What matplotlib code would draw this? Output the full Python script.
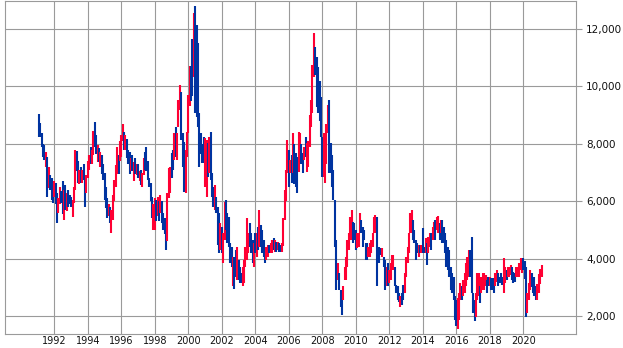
import datetime as dt

import pandas as pd
import matplotlib
matplotlib.use("Agg")
import matplotlib.pyplot as plt
import matplotlib.dates as mdates
from matplotlib.ticker import FuncFormatter

# ===== DANE: miesięczne słupki od 1991-02 =====
# highs / lows w punktach indeksu, moves: U = wzrost (czerwony), D = spadek (niebieski)
highs = [
    9040, 8720, 8380, 8000, 7950, 7700, 7550, 7200, 6900, 6800, 6600,                  # 1991
    6700, 6650, 6300, 6100, 6500, 6350, 6700, 6400, 6550, 6300, 6400, 6200,            # 1992
    6150, 6050, 6500, 7800, 7750, 7400, 7100, 7200, 7100, 7300, 6900, 6900,            # 1993
    7400, 7600, 7900, 7800, 8450, 8750, 8300, 7950, 7850, 7700, 7600, 7300,            # 1994
    7000, 6500, 6100, 5900, 5800, 5700, 6200, 6750, 7250, 7900, 7600, 8100,            # 1995
    8300, 8700, 8400, 8300, 8150, 7800, 7700, 7500, 7600, 7350, 7500, 7300,            # 1996
    7300, 7050, 7100, 7000, 7500, 7700, 7900, 7400, 6800, 6650, 6150, 5900,            # 1997
    6100, 6050, 6150, 6000, 6200, 6000, 5600, 5400, 5400, 6300, 7150, 7200,            # 1998
    7670, 7800, 8370, 8600, 8370, 9530, 10050, 9820, 8370, 8080, 7790, 8420,           # 1999
    9700, 10700, 10700, 11650, 12550, 12800, 12140, 11500, 9060, 8370, 8000, 8250,     # 2000
    8190, 8130, 8020, 8250, 8420, 6970, 6510, 6570, 6160, 5810, 5580, 5230,            # 2001
    5110, 4880, 5980, 6040, 5580, 5460, 4530, 4420, 4070, 4070, 4300, 4420,            # 2002
    3950, 3720, 3490, 3720, 3950, 4420, 5400, 4880, 5230, 4880, 4650, 4530,            # 2003
    4880, 4880, 5110, 5700, 5170, 5000, 4650, 4420, 4420, 4480, 4480, 4530,            # 2004
    4650, 4710, 4650, 4590, 4590, 4530, 4480, 4530, 5400, 6400, 7100, 8130,            # 2005
    7790, 7440, 7610, 8370, 8000, 7670, 7550, 8420, 8370, 8000, 7670, 7900,            # 2006
    8250, 8020, 8100, 9000, 9530, 10750, 11850, 11380, 11040, 10690, 10200, 9640,      # 2007
    8250, 8370, 8130, 8700, 9350, 9530, 8020, 7600, 7090, 6040, 4650, 3840,            # 2008
    3490, 2900, 2680, 3030, 3720, 4070, 4650, 4880, 5460, 5700, 5290, 5230,            # 2009
    5000, 4880, 4880, 5580, 5350, 5110, 5000, 4530, 4530, 4420, 4530, 4650,            # 2010
    4880, 5460, 5520, 5460, 4420, 4420, 4360, 4360, 4070, 3950, 3720, 3840,            # 2011
    3600, 3840, 4130, 4130, 3700, 3080, 3030, 2790, 2680, 2790, 3080, 3490,            # 2012
    4070, 4420, 4880, 5580, 5700, 5350, 5000, 4650, 4530, 4480, 4480, 4480,            # 2013
    5060, 4420, 4710, 4530, 4770, 4880, 4880, 5110, 5290, 5350, 5460, 5490,            # 2014
    5230, 5350, 5350, 5110, 4880, 4650, 4420, 4300, 3720, 3490, 3370, 2680,            # 2015
    2560, 2620, 2790, 3140, 3030, 3260, 3490, 3840, 4070, 4300, 4300, 4740,            # 2016
    2790, 2560, 2790, 3490, 3490, 3030, 3370, 3490, 3490, 3430, 3260, 3370,            # 2017
    3370, 3320, 3320, 3260, 3490, 3600, 3490, 3370, 3490, 3370, 4010, 3720,            # 2018
    3600, 3720, 3720, 3780, 3720, 3550, 3490, 3720, 3720, 3840, 4010, 4010,            # 2019
    4010, 3900, 3700, 2790, 3140, 3600, 3500, 3260, 3370, 3030, 3100, 3450,            # 2020
    3650, 3770,                                                                        # 2021
]

lows = [
    8250, 8250, 7900, 7550, 7450, 7200, 6150, 6450, 6400, 6050, 5950,                  # 1991
    6150, 5900, 5250, 5600, 5900, 5950, 5550, 5350, 5700, 5650, 5800, 5900,            # 1992
    5800, 5450, 5950, 6400, 7050, 6650, 6600, 6650, 6650, 6750, 5800, 6300,            # 1993
    6800, 7100, 7300, 7300, 7600, 7900, 7650, 7350, 7350, 7200, 6950, 6750,            # 1994
    6050, 5750, 5400, 5500, 5250, 4880, 5350, 6000, 6500, 6950, 6950, 7400,            # 1995
    7550, 8100, 7800, 7800, 7500, 7300, 6950, 7050, 7050, 6700, 6950, 6900,            # 1996
    6800, 6700, 6550, 6500, 6900, 7100, 7050, 6750, 6500, 6000, 5400, 5000,            # 1997
    5000, 5300, 5500, 5300, 5600, 5250, 5000, 4850, 4300, 4600, 6100, 6300,            # 1998
    6800, 7100, 7440, 7550, 7440, 8600, 9180, 8130, 7200, 6330, 6280, 7550,            # 1999
    8370, 9300, 9500, 9650, 10340, 9060, 8950, 8600, 7200, 7650, 7320, 7320,           # 2000
    6510, 6160, 6860, 6970, 6740, 6160, 5810, 5700, 5580, 4480, 4190, 4300,            # 2001
    4190, 3840, 4650, 5000, 4530, 4420, 3840, 3720, 3030, 2930, 3370, 3260,            # 2002
    3260, 3140, 3140, 3030, 3140, 3720, 3950, 4190, 4420, 4190, 3840, 3720,            # 2003
    4190, 4070, 4300, 4420, 4420, 4190, 4070, 3840, 3950, 4070, 4190, 4190,            # 2004
    4190, 4300, 4240, 4240, 4300, 4240, 4240, 4240, 4450, 5350, 6000, 7000,            # 2005
    6510, 6970, 6620, 7000, 6600, 6510, 6300, 7030, 7320, 7300, 6970, 7440,            # 2006
    7550, 7030, 7200, 7900, 8600, 9060, 10340, 10400, 9290, 9060, 8800, 8250,          # 2007
    6860, 6860, 6620, 7300, 8370, 6970, 6970, 6500, 6040, 4420, 2910, 3260,            # 2008
    2910, 2300, 2040, 2560, 3260, 3260, 3720, 4300, 4650, 4650, 4530, 4650,            # 2009
    4300, 4360, 4420, 4880, 4880, 4420, 4650, 3950, 3950, 4070, 4070, 4190,            # 2010
    4420, 4880, 4880, 3030, 4070, 3840, 4130, 4070, 3720, 2910, 3030, 3030,            # 2011
    3140, 3260, 3600, 3600, 3030, 2790, 2560, 2500, 2330, 2380, 2560, 2790,            # 2012
    3370, 3840, 4190, 4880, 4880, 4650, 4530, 3950, 4190, 4070, 4190, 4190,            # 2013
    4190, 4190, 4190, 3780, 4190, 4420, 4300, 4650, 4820, 4650, 5000, 4880,            # 2014
    4650, 4880, 4530, 4530, 4190, 3720, 3600, 3370, 2910, 2790, 2560, 1860,            # 2015
    1650, 1560, 1860, 2560, 2560, 2680, 2790, 3030, 3260, 3370, 3370, 2790,            # 2016
    2100, 1810, 1980, 2560, 2680, 2440, 2790, 2910, 2910, 3030, 2790, 3030,            # 2017
    3030, 2910, 2910, 2790, 3030, 3200, 3030, 3140, 3140, 3080, 2790, 3140,            # 2018
    3260, 3370, 3370, 3430, 3260, 3140, 3200, 3370, 3370, 3370, 3600, 3490,            # 2019
    3600, 3300, 1980, 2100, 2560, 2900, 3000, 2790, 2680, 2560, 2560, 2790,            # 2020
    3100, 3370,                                                                        # 2021
]

moves = (
    "DDDDDUDUDDD"    # 1991
    "UDDUUDDUDUDD"   # 1992
    "DUUUDDUDUDDU"   # 1993
    "UUDUUDDUDUDD"   # 1994
    "DDDUDUUUUUDU"   # 1995
    "UUDUDDDUDUDU"   # 1996
    "DUDUUDDDDDDU"   # 1997
    "UDUDUDDDDUUU"   # 1998
    "DDUDUUUDDDUU"   # 1999
    "UUDDUDDDDDDD"   # 2000
    "UUDUDDDUDDDU"   # 2001
    "DUUDDDDDUDDU"   # 2002
    "DDDUUUUUDDDU"   # 2003
    "DUDUDDDDUUDU"   # 2004
    "UDUDUDDUUUUU"   # 2005
    "DUDUDDDUUDDU"   # 2006
    "DUUUUUUDDDDD"   # 2007
    "DUUUUDDDDDDU"   # 2008
    "DDDUUUUUUUDD"   # 2009
    "DUUUDDDDDUUU"   # 2010
    "UUUDDDDUDDUD"   # 2011
    "UUUUDDDDUDDU"   # 2012
    "UUUUUDDDDUDU"   # 2013
    "DDUDUUDUUDUU"   # 2014
    "DUDDDDDDDDDD"   # 2015
    "DUUUDUUUUUDD"   # 2016
    "DDUUUDUUUUDD"   # 2017
    "UDDDUUDDDDUU"   # 2018
    "DUUUDDDUUUUU"   # 2019
    "DDDUUUDDDDUU"   # 2020
    "UU"             # 2021
)

y_ticks = [2000, 4000, 6000, 8000, 10000, 12000]
x_tick_years = list(range(1992, 2021, 2))

# ===== WYKRES =====
months = pd.date_range("1991-02-01", periods=len(highs), freq="MS")
up_color = "#ff0033"
down_color = "#0033a0"
grid_color = "#9a9a9a"
colors = [up_color if m == "U" else down_color for m in moves]

fig = plt.figure(figsize=(6.23, 3.48), dpi=100)
ax = fig.add_axes([5 / 623, 14 / 348, 571 / 623, 333.5 / 348])

ax.vlines(mdates.date2num(months), lows, highs, colors=colors,
          linewidth=1.5, capstyle="butt", zorder=3)

ax.set_xlim(dt.date(1989, 1, 21), dt.date(2023, 2, 23))
ax.set_ylim(1373, 12993)

ax.set_xticks([dt.date(y, 1, 1) for y in x_tick_years])
ax.xaxis.set_major_formatter(mdates.DateFormatter("%Y"))
ax.set_yticks(y_ticks)
ax.yaxis.set_major_formatter(FuncFormatter(lambda v, _: f"{int(v):,}"))
ax.yaxis.tick_right()

ax.grid(True, color=grid_color, linewidth=0.8, zorder=0)
ax.set_axisbelow(True)
for s in ax.spines.values():
    s.set_color(grid_color)
    s.set_linewidth(0.8)

ax.tick_params(axis="x", length=0, pad=1.5, labelsize=7, labelcolor="#111111")
ax.tick_params(axis="y", right=True, left=False, length=4.3, width=0.8,
               color=grid_color, pad=3, labelsize=7.5, labelcolor="#111111")

fig.savefig("out.png", dpi=100)
